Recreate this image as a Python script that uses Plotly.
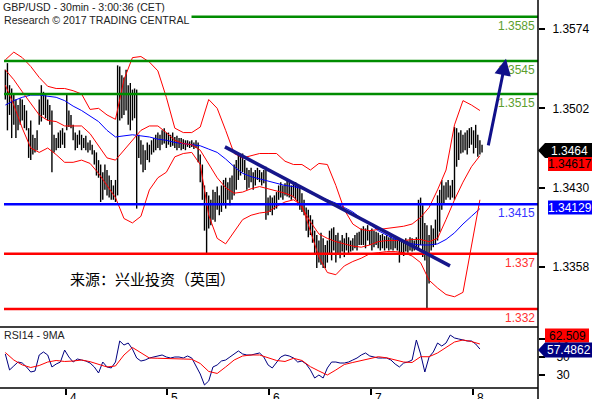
import plotly.graph_objects as go
import pandas as pd

# ---------------- data ----------------
bar_times = pd.date_range("2017-12-03 09:45", periods=226, freq="30min")

high = [1.3537, 1.3543, 1.3523, 1.3520, 1.3514, 1.3510, 1.3505, 1.3511, 1.3510, 1.3505,
        1.3500, 1.3484, 1.3491, 1.3478, 1.3475, 1.3482, 1.3510, 1.3523, 1.3517, 1.3514,
        1.3510, 1.3505, 1.3500, 1.3478, 1.3475, 1.3480, 1.3482, 1.3484, 1.3480, 1.3514,
        1.3500, 1.3496, 1.3487, 1.3480, 1.3478, 1.3482, 1.3478, 1.3475, 1.3477, 1.3471,
        1.3473, 1.3469, 1.3464, 1.3462, 1.3455, 1.3451, 1.3444, 1.3451, 1.3446, 1.3441,
        1.3437, 1.3432, 1.3437, 1.3541, 1.3540, 1.3532, 1.3530, 1.3537, 1.3523, 1.3525,
        1.3519, 1.3520, 1.3519, 1.3478, 1.3473, 1.3469, 1.3464, 1.3471, 1.3469, 1.3473,
        1.3475, 1.3478, 1.3480, 1.3478, 1.3482, 1.3484, 1.3480, 1.3480, 1.3478, 1.3480,
        1.3476, 1.3477, 1.3475, 1.3475, 1.3474, 1.3473, 1.3473, 1.3472, 1.3473, 1.3471,
        1.3473, 1.3471, 1.3460, 1.3451, 1.3432, 1.3426, 1.3423, 1.3419, 1.3428, 1.3426,
        1.3431, 1.3423, 1.3432, 1.3437, 1.3439, 1.3435, 1.3439, 1.3441, 1.3451, 1.3455,
        1.3461, 1.3460, 1.3461, 1.3455, 1.3448, 1.3446, 1.3448, 1.3444, 1.3446, 1.3448,
        1.3446, 1.3444, 1.3446, 1.3449, 1.3421, 1.3423, 1.3421, 1.3423, 1.3426, 1.3432,
        1.3435, 1.3432, 1.3434, 1.3437, 1.3435, 1.3432, 1.3434, 1.3435, 1.3432, 1.3430,
        1.3425, 1.3419, 1.3412, 1.3410, 1.3405, 1.3401, 1.3391, 1.3387, 1.3382, 1.3389,
        1.3384, 1.3378, 1.3382, 1.3391, 1.3393, 1.3394, 1.3387, 1.3389, 1.3382, 1.3387,
        1.3384, 1.3389, 1.3385, 1.3382, 1.3384, 1.3387, 1.3389, 1.3390, 1.3393, 1.3395,
        1.3393, 1.3396, 1.3391, 1.3393, 1.3391, 1.3390, 1.3389, 1.3387, 1.3388, 1.3386,
        1.3387, 1.3385, 1.3386, 1.3384, 1.3385, 1.3384, 1.3382, 1.3381, 1.3382, 1.3384,
        1.3382, 1.3385, 1.3384, 1.3382, 1.3385, 1.3419, 1.3421, 1.3414, 1.3398, 1.3396,
        1.3387, 1.3396, 1.3393, 1.3401, 1.3423, 1.3428, 1.3437, 1.3432, 1.3435, 1.3437,
        1.3432, 1.3437, 1.3485, 1.3484, 1.3480, 1.3482, 1.3478, 1.3480, 1.3482, 1.3484,
        1.3485, 1.3482, 1.3487, 1.3478, 1.3473, 1.3469]

low = [1.3510, 1.3482, 1.3496, 1.3475, 1.3487, 1.3475, 1.3482, 1.3487, 1.3491, 1.3484,
       1.3482, 1.3457, 1.3455, 1.3460, 1.3462, 1.3464, 1.3487, 1.3490, 1.3496, 1.3493,
       1.3491, 1.3487, 1.3444, 1.3462, 1.3464, 1.3466, 1.3466, 1.3469, 1.3466, 1.3482,
       1.3485, 1.3484, 1.3473, 1.3464, 1.3466, 1.3469, 1.3464, 1.3466, 1.3464, 1.3462,
       1.3464, 1.3460, 1.3451, 1.3441, 1.3439, 1.3417, 1.3419, 1.3428, 1.3423, 1.3421,
       1.3419, 1.3419, 1.3417, 1.3423, 1.3491, 1.3493, 1.3496, 1.3500, 1.3487, 1.3482,
       1.3491, 1.3493, 1.3411, 1.3457, 1.3451, 1.3444, 1.3446, 1.3455, 1.3453, 1.3460,
       1.3462, 1.3464, 1.3466, 1.3464, 1.3469, 1.3470, 1.3466, 1.3469, 1.3467, 1.3468,
       1.3466, 1.3464, 1.3466, 1.3464, 1.3465, 1.3464, 1.3467, 1.3466, 1.3467, 1.3465,
       1.3466, 1.3453, 1.3435, 1.3419, 1.3391, 1.3369, 1.3393, 1.3396, 1.3401, 1.3399,
       1.3410, 1.3405, 1.3408, 1.3414, 1.3411, 1.3419, 1.3414, 1.3419, 1.3423, 1.3428,
       1.3437, 1.3441, 1.3444, 1.3437, 1.3428, 1.3430, 1.3435, 1.3428, 1.3432, 1.3437,
       1.3435, 1.3432, 1.3434, 1.3401, 1.3405, 1.3408, 1.3405, 1.3410, 1.3411, 1.3419,
       1.3421, 1.3419, 1.3423, 1.3422, 1.3421, 1.3419, 1.3421, 1.3419, 1.3414, 1.3410,
       1.3408, 1.3405, 1.3391, 1.3385, 1.3387, 1.3380, 1.3369, 1.3357, 1.3362, 1.3360,
       1.3357, 1.3357, 1.3362, 1.3369, 1.3364, 1.3373, 1.3362, 1.3369, 1.3366, 1.3372,
       1.3367, 1.3373, 1.3369, 1.3372, 1.3373, 1.3375, 1.3373, 1.3378, 1.3378, 1.3378,
       1.3375, 1.3382, 1.3378, 1.3373, 1.3376, 1.3378, 1.3375, 1.3373, 1.3375, 1.3373,
       1.3375, 1.3373, 1.3374, 1.3373, 1.3375, 1.3373, 1.3362, 1.3369, 1.3368, 1.3372,
       1.3371, 1.3373, 1.3372, 1.3373, 1.3375, 1.3373, 1.3378, 1.3367, 1.3364, 1.3319,
       1.3343, 1.3373, 1.3376, 1.3378, 1.3382, 1.3390, 1.3410, 1.3416, 1.3419, 1.3421,
       1.3419, 1.3421, 1.3419, 1.3449, 1.3455, 1.3461, 1.3462, 1.3464, 1.3460, 1.3466,
       1.3469, 1.3461, 1.3466, 1.3458, 1.3460, 1.3462]

# Bollinger bands (red) and moving average (blue), read every 2 hours
band_times = bar_times[::4]
bb_upper = [1.3546, 1.3553, 1.3548, 1.3540, 1.3530, 1.3522, 1.3520, 1.3520, 1.3518, 1.3515,
            1.3501, 1.3502, 1.3496, 1.3492, 1.3528, 1.3548, 1.3549, 1.3544, 1.3536, 1.3512,
            1.3484, 1.3480, 1.3480, 1.3485, 1.3510, 1.3502, 1.3482, 1.3461, 1.3457, 1.3459,
            1.3461, 1.3461, 1.3461, 1.3454, 1.3451, 1.3451, 1.3446, 1.3452, 1.3451, 1.3432,
            1.3410, 1.3397, 1.3392, 1.3391, 1.3392, 1.3393, 1.3394, 1.3395, 1.3397, 1.3403,
            1.3412, 1.3428, 1.3446, 1.3487, 1.3509, 1.3505, 1.3500]
bb_middle = [1.3537, 1.3528, 1.3517, 1.3506, 1.3496, 1.3491, 1.3490, 1.3486, 1.3486, 1.3486,
             1.3479, 1.3468, 1.3457, 1.3455, 1.3464, 1.3474, 1.3482, 1.3486, 1.3486, 1.3480,
             1.3473, 1.3470, 1.3469, 1.3464, 1.3451, 1.3439, 1.3430, 1.3425, 1.3426, 1.3429,
             1.3431, 1.3429, 1.3427, 1.3425, 1.3422, 1.3412, 1.3399, 1.3388, 1.3384, 1.3381,
             1.3379, 1.3377, 1.3376, 1.3378, 1.3381, 1.3382, 1.3382, 1.3382, 1.3383, 1.3383,
             1.3381, 1.3384, 1.3401, 1.3419, 1.3435, 1.3449, 1.3459]
bb_lower = [1.3523, 1.3505, 1.3484, 1.3466, 1.3462, 1.3466, 1.3460, 1.3453, 1.3453, 1.3455,
            1.3452, 1.3443, 1.3432, 1.3421, 1.3402, 1.3398, 1.3404, 1.3428, 1.3439, 1.3444,
            1.3458, 1.3461, 1.3462, 1.3451, 1.3405, 1.3384, 1.3379, 1.3390, 1.3401, 1.3405,
            1.3407, 1.3408, 1.3413, 1.3417, 1.3419, 1.3414, 1.3390, 1.3367, 1.3353, 1.3351,
            1.3359, 1.3363, 1.3366, 1.3370, 1.3371, 1.3372, 1.3372, 1.3371, 1.3368, 1.3362,
            1.3346, 1.3339, 1.3333, 1.3331, 1.3335, 1.3378, 1.3419]
ma_long = [1.3505, 1.3509, 1.3512, 1.3514, 1.3514, 1.3513, 1.3512, 1.3509, 1.3504, 1.3500,
           1.3495, 1.3490, 1.3482, 1.3476, 1.3477, 1.3478, 1.3477, 1.3476, 1.3474, 1.3473,
           1.3471, 1.3470, 1.3469, 1.3468, 1.3465, 1.3462, 1.3456, 1.3449, 1.3443, 1.3440,
           1.3438, 1.3436, 1.3434, 1.3432, 1.3431, 1.3429, 1.3425, 1.3422, 1.3419, 1.3416,
           1.3412, 1.3408, 1.3402, 1.3397, 1.3391, 1.3387, 1.3383, 1.3381, 1.3379, 1.3378,
           1.3378, 1.3379, 1.3383, 1.3389, 1.3397, 1.3404, 1.3411]

# RSI14 (every hour) and its 9-period MA (every 2 hours)
rsi_times = bar_times[::2]
rsi14 = [53.3, 35.8, 40.2, 44.5, 43.4, 39.1, 33.6, 34.7, 52.2, 55.5,
         52.2, 39.1, 42.3, 44.5, 57.6, 50.0, 44.5, 47.8, 46.7, 45.6,
         43.4, 39.1, 32.5, 44.5, 39.1, 38.0, 44.5, 67.5, 63.1, 65.3,
         58.7, 48.9, 45.6, 46.7, 48.9, 50.0, 51.1, 52.2, 50.0, 48.9,
         50.0, 50.0, 48.9, 51.1, 48.9, 40.2, 31.4, 19.4, 23.8, 39.1,
         41.3, 45.6, 46.7, 50.0, 53.3, 56.6, 53.3, 52.2, 52.2, 53.3,
         54.4, 50.0, 41.3, 38.0, 44.5, 50.0, 52.2, 51.1, 48.9, 44.5,
         45.6, 42.3, 35.8, 27.0, 30.3, 27.0, 38.0, 44.5, 44.5, 43.4,
         43.4, 44.5, 46.7, 48.9, 52.2, 54.4, 51.1, 50.0, 48.9, 48.9,
         48.9, 46.7, 42.3, 39.1, 43.4, 44.5, 46.7, 68.6, 53.3, 33.6,
         50.0, 55.5, 65.3, 62.0, 65.3, 74.0, 70.8, 69.7, 68.6, 67.5,
         67.5, 64.2, 58.7]
rsi_ma_times = bar_times[::4]
rsi_ma9 = [54.9, 46.7, 41.3, 38.5, 40.7, 44.5, 46.2, 45.1, 45.6, 46.7,
           44.9, 41.8, 39.1, 40.2, 52.2, 60.4, 54.4, 48.9, 48.6, 48.6,
           48.4, 47.8, 47.5, 42.9, 34.2, 32.0, 39.1, 46.7, 51.1, 52.2,
           52.2, 49.5, 46.2, 45.1, 48.6, 46.2, 39.4, 34.7, 30.3, 35.8,
           41.8, 44.0, 46.2, 48.9, 50.3, 49.1, 46.7, 44.5, 44.0, 50.3,
           50.3, 54.4, 60.4, 66.4, 68.6, 66.9, 64.2]

# key levels
res_levels = [1.3585, 1.3545, 1.3515]
pivot_levels = [1.3415]
sup_levels = [1.337, 1.332]
level_labels = {1.3585: "1.3585", 1.3545: "1.3545", 1.3515: "1.3515",
                1.3415: "1.3415", 1.337: "1.337", 1.332: "1.332"}

price_ticks = [1.3358, 1.3430, 1.3502, 1.3574]
rsi_ticks = [30, 50, 70]
day_ticks = ["2017-12-04", "2017-12-05", "2017-12-06", "2017-12-07", "2017-12-08"]
day_labels = ["4", "5", "6", "7", "8"]

last_price = "1.3464"
bid_value = "1.34617"
ma_value = "1.34129"
rsi_ma_value = "62.509"
rsi_value = "57.4862"

trend_start = ("2017-12-05 13:35", 1.3467)
trend_end = ("2017-12-07 18:41", 1.3359)
arrow_tail = ("2017-12-08 03:39", 1.3467)
arrow_head = ("2017-12-08 07:54", 1.3547)

# ---------------- figure ----------------
W, H = 596, 399
def px(x):
    return x / W
def py(y):
    return 1 - y / H

XR = ["2017-12-03 09:26:20", "2017-12-08 15:27:20"]
FONT = "Liberation Sans, Arial, sans-serif"

fig = go.Figure()

bx, by = [], []
for t, h, l in zip(bar_times, high, low):
    bx += [t, t, None]
    by += [l, h, None]
fig.add_trace(go.Scatter(x=bx, y=by, mode="lines", line=dict(color="black", width=1.4),
                         hoverinfo="skip"))

fig.add_trace(go.Scatter(x=band_times, y=ma_long, mode="lines", line=dict(color="#0000ff", width=1)))
for s in (bb_upper, bb_middle, bb_lower):
    fig.add_trace(go.Scatter(x=band_times, y=s, mode="lines", line=dict(color="#ff0000", width=1)))

fig.add_trace(go.Scatter(x=rsi_times, y=rsi14, mode="lines", line=dict(color="#000080", width=1),
                         xaxis="x2", yaxis="y2"))
fig.add_trace(go.Scatter(x=rsi_ma_times, y=rsi_ma9, mode="lines", line=dict(color="#ff0000", width=1),
                         xaxis="x2", yaxis="y2"))

shapes = []
annotations = []

def level(v, color, lcolor):
    shapes.append(dict(type="line", xref="x domain", x0=0, x1=1, yref="y", y0=v, y1=v,
                       line=dict(color=color, width=2.5)))
    annotations.append(dict(xref="x domain", x=0.998, yref="y", y=v, yshift=-9,
                            text=level_labels[v], showarrow=False, xanchor="right",
                            font=dict(family=FONT, size=12, color=lcolor)))

for v in res_levels:
    level(v, "#008c00", "#5c9e2e")
for v in pivot_levels:
    level(v, "#0000ff", "#3535ff")
for v in sup_levels:
    level(v, "#ff0000", "#ff3030")

# trend line
shapes.append(dict(type="line", xref="x", yref="y", x0=trend_start[0], y0=trend_start[1],
                   x1=trend_end[0], y1=trend_end[1], line=dict(color="#16168a", width=3.5)))

# panel borders & right axis line
shapes.append(dict(type="line", xref="paper", yref="paper", x0=0, x1=px(538), y0=py(327), y1=py(327),
                   line=dict(color="black", width=1.5)))
shapes.append(dict(type="line", xref="paper", yref="paper", x0=0, x1=px(538), y0=py(388), y1=py(388),
                   line=dict(color="black", width=1.5)))
shapes.append(dict(type="line", xref="paper", yref="paper", x0=px(538), x1=px(538), y0=0, y1=1,
                   line=dict(color="black", width=1.5)))

# value boxes
def pointer_box(yc, color):
    path = (f"M {px(538)},{py(yc)} L {px(545)},{py(yc-7.5)} L {px(592)},{py(yc-7.5)} "
            f"L {px(592)},{py(yc+7.5)} L {px(545)},{py(yc+7.5)} Z")
    shapes.append(dict(type="path", xref="paper", yref="paper", path=path,
                       fillcolor=color, line=dict(width=0)))

def rect_box(x0, x1, yc, color):
    shapes.append(dict(type="rect", xref="paper", yref="paper", x0=px(x0), x1=px(x1),
                       y0=py(yc+7), y1=py(yc-7), fillcolor=color, line=dict(width=0)))

def box_text(txt, xc, yc, color):
    annotations.append(dict(xref="paper", yref="paper", x=px(xc), y=py(yc), text=txt,
                            showarrow=False, xanchor="center", yanchor="middle",
                            font=dict(family=FONT, size=12, color=color)))

pointer_box(150.5, "#000000"); box_text(last_price, 569, 150.5, "white")
rect_box(548, 592, 164, "#ff0000"); box_text(bid_value, 570, 164, "black")
rect_box(548, 592, 207.5, "#0000ff"); box_text(ma_value, 570, 207.5, "white")
rect_box(545, 589, 335.5, "#ff0000"); box_text(rsi_ma_value, 567, 335.5, "black")
pointer_box(350, "#000080"); box_text(rsi_value, 569, 350, "white")

# titles and texts
annotations.append(dict(xref="paper", yref="paper", x=px(2), y=py(7), text="GBP/USD - 30min - 3:00:36 (CET)",
                        showarrow=False, xanchor="left", yanchor="middle", bgcolor="white", borderpad=0,
                        font=dict(family=FONT, size=10.6, color="#222222")))
annotations.append(dict(xref="paper", yref="paper", x=px(2), y=py(20.5), text="Research © 2017 TRADING CENTRAL",
                        showarrow=False, xanchor="left", yanchor="middle", bgcolor="white", borderpad=1,
                        font=dict(family=FONT, size=10.6, color="#222222")))
annotations.append(dict(xref="paper", yref="paper", x=px(2), y=py(335), text="RSI14 - 9MA",
                        showarrow=False, xanchor="left", yanchor="middle",
                        font=dict(family=FONT, size=10.6, color="#222222")))
annotations.append(dict(xref="paper", yref="paper", x=px(68), y=py(278), text="来源：兴业投资（英国）",
                        showarrow=False, xanchor="left", yanchor="middle",
                        font=dict(family="Noto Sans CJK SC", size=15, color="black")))

# day labels
for d, lab in zip(day_ticks, day_labels):
    annotations.append(dict(xref="x2", yref="paper", x=d, y=py(388), text=lab, showarrow=False,
                            xanchor="left", yanchor="top", xshift=2, yshift=-1,
                            font=dict(family=FONT, size=12, color="black")))

# forecast arrow
annotations.append(dict(xref="x", yref="y", axref="x", ayref="y", x=arrow_head[0], y=arrow_head[1],
                        ax=arrow_tail[0], ay=arrow_tail[1], text="", showarrow=True,
                        arrowhead=2, arrowsize=1.1, arrowwidth=3, arrowcolor="#10108a"))

fig.update_layout(
    width=W, height=H, margin=dict(l=0, r=0, t=0, b=0, autoexpand=False),
    paper_bgcolor="white", plot_bgcolor="white", showlegend=False,
    xaxis=dict(domain=[px(4), px(538)], range=XR, type="date", showticklabels=False,
               showgrid=False, zeroline=False, ticks="", showline=False, automargin=False),
    yaxis=dict(domain=[py(322), 1], range=[1.33081, 1.36003], side="right",
               tickvals=price_ticks, ticktext=[f"{v:.4f}" for v in price_ticks],
               ticks="outside", ticklen=6, tickcolor="black", tickwidth=1.5, showgrid=False,
               zeroline=False, ticklabelstandoff=5, automargin=False,
               tickfont=dict(family=FONT, size=12, color="black")),
    xaxis2=dict(domain=[px(4), px(538)], range=XR, type="date", anchor="y2",
                tickvals=day_ticks, ticktext=["", "", "", "", ""], ticks="outside", ticklen=6,
                tickcolor="black", tickwidth=1.5, showgrid=False, zeroline=False, showline=False,
                automargin=False),
    yaxis2=dict(domain=[py(388), py(327)], range=[16.1, 82.8], side="right", anchor="x2",
                tickvals=rsi_ticks, ticktext=[str(v) for v in rsi_ticks],
                ticks="outside", ticklen=6, tickcolor="black", tickwidth=1.5, showgrid=False,
                zeroline=False, ticklabelstandoff=9, automargin=False,
                tickfont=dict(family=FONT, size=12, color="black")),
    shapes=shapes, annotations=annotations,
)

fig.write_html("out.html", config={"displayModeBar": False},
               post_script="document.body.style.margin='0px';")
